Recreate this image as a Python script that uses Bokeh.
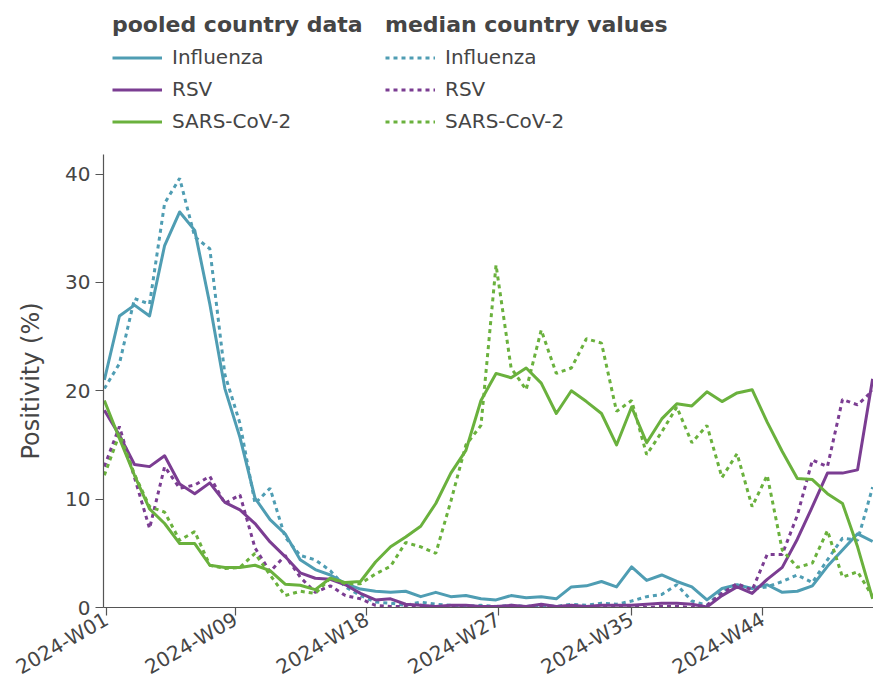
import math
from datetime import date, timedelta

from bokeh.plotting import figure
from bokeh.layouts import column
from bokeh.models import Legend, LegendItem, FixedTicker, Range1d
from bokeh.embed import file_html
from bokeh.resources import INLINE

# ISO weeks of 2024
weeks = list(range(1, 53))

# Positivity (%) – pooled country data
influenza_pooled = [21.0, 26.9, 27.9, 26.9, 33.4, 36.5, 34.8, 28.0, 20.2, 15.7,
                    10.1, 8.1, 6.8, 4.4, 3.5, 3.0, 2.2, 1.7, 1.5, 1.4,
                    1.5, 1.0, 1.4, 1.0, 1.1, 0.8, 0.7, 1.1, 0.9, 1.0,
                    0.8, 1.9, 2.0, 2.4, 1.9, 3.75, 2.5, 3.0, 2.4, 1.9,
                    0.7, 1.75, 2.1, 1.75, 2.1, 1.4, 1.5, 2.0, 3.8, 5.3,
                    6.8, 6.1]
rsv_pooled = [18.2, 15.9, 13.2, 13.0, 14.0, 11.4, 10.5, 11.5, 9.7, 9.0,
              7.75, 6.05, 4.7, 3.2, 2.7, 2.6, 2.1, 1.3, 0.7, 0.8,
              0.3, 0.2, 0.1, 0.2, 0.2, 0.1, 0.1, 0.2, 0.1, 0.3,
              0.1, 0.2, 0.1, 0.2, 0.2, 0.2, 0.3, 0.4, 0.4, 0.3,
              0.05, 1.1, 1.9, 1.3, 2.6, 3.7, 6.3, 9.3, 12.4, 12.4,
              12.7, 21.1]
sars_pooled = [19.1, 15.6, 12.2, 9.1, 7.75, 5.9, 5.9, 3.9, 3.7, 3.7,
               3.9, 3.4, 2.15, 2.05, 1.65, 2.7, 2.3, 2.4, 4.2, 5.6,
               6.5, 7.5, 9.6, 12.4, 14.5, 19.1, 21.6, 21.2, 22.1, 20.7,
               17.9, 20.0, 19.0, 17.9, 15.0, 18.5, 15.2, 17.4, 18.8, 18.6,
               19.9, 19.0, 19.8, 20.1, 17.1, 14.4, 11.9, 11.8, 10.5, 9.6,
               5.6, 0.8]

# Positivity (%) – median country values
influenza_median = [20.2, 22.5, 28.5, 28.0, 37.3, 39.6, 34.2, 33.1, 21.5, 17.0,
                    9.6, 11.0, 6.5, 4.8, 4.4, 3.4, 1.9, 1.1, 0.5, 0.4,
                    0.2, 0.5, 0.3, 0.2, 0.1, 0.2, 0.1, 0.2, 0.1, 0.2,
                    0.1, 0.3, 0.2, 0.4, 0.3, 0.6, 1.0, 1.2, 2.1, 0.6,
                    0.2, 1.5, 2.1, 1.7, 1.9, 2.4, 3.0, 2.3, 4.4, 6.4,
                    6.2, 11.1]
rsv_median = [13.0, 16.7, 12.0, 7.3, 13.0, 11.0, 11.3, 12.1, 9.6, 10.4,
              5.5, 3.3, 4.8, 2.8, 1.4, 2.0, 1.1, 0.8, 0.2, 0.1,
              0.1, 0.2, 0.0, 0.1, 0.0, 0.1, 0.0, 0.1, 0.0, 0.1,
              0.0, 0.1, 0.0, 0.1, 0.0, 0.1, 0.0, 0.1, 0.1, 0.0,
              0.2, 1.3, 2.2, 1.6, 4.9, 4.9, 8.5, 13.6, 13.0, 19.2,
              18.7, 20.0]
sars_median = [12.2, 16.0, 12.3, 9.3, 8.8, 6.2, 7.0, 3.9, 3.6, 3.7,
               5.0, 3.0, 1.1, 1.5, 1.3, 2.7, 2.2, 2.2, 3.1, 3.8,
               6.0, 5.6, 5.0, 9.8, 15.0, 16.8, 31.6, 22.1, 20.1, 25.6,
               21.6, 22.1, 24.8, 24.4, 18.1, 19.1, 14.1, 16.2, 18.5, 15.2,
               16.8, 12.0, 14.2, 9.3, 12.2, 5.3, 3.7, 4.1, 7.1, 2.8,
               3.3, 1.0]

tick_labels = ["2024-W01", "2024-W09", "2024-W18", "2024-W27", "2024-W35", "2024-W44"]
tick_dates = [date(2024, 1, 1), date(2024, 3, 1), date(2024, 5, 1),
              date(2024, 7, 1), date(2024, 9, 1), date(2024, 11, 1)]
y_ticks = [0, 10, 20, 30, 40]

# x is measured in days from 1 January 2024; each weekly value is drawn
# on the Sunday before its ISO week begins
origin = date(2024, 1, 1)
x = [(date.fromisocalendar(2024, w, 1) - timedelta(days=1) - origin).days for w in weeks]
tick_pos = [(d - origin).days for d in tick_dates]

COL_FLU = "#4f9db3"
COL_RSV = "#7b3d92"
COL_SARS = "#6ab13d"
TEXT = "#454545"
FONT = "DejaVu Sans"
DOT = "4 4"
LEG_H = 150

series = [
    ("Influenza", influenza_pooled, influenza_median, COL_FLU),
    ("RSV", rsv_pooled, rsv_median, COL_RSV),
    ("SARS-CoV-2", sars_pooled, sars_median, COL_SARS),
]

x_range = Range1d(-1.4, 356.4)
y_range = Range1d(0, 41.8)

# ---- main chart -------------------------------------------------------
p = figure(width=873, height=692 - LEG_H, output_backend="svg", toolbar_location=None,
           x_range=x_range, y_range=y_range,
           min_border_left=103, min_border_right=0,
           min_border_top=4, min_border_bottom=85)
p.xgrid.visible = False
p.ygrid.visible = False
p.outline_line_color = None
p.background_fill_color = "white"
p.border_fill_color = "white"

for name, pooled, median, col in series:
    p.line(x, median, line_color=col, line_width=3, line_dash=DOT)
    p.line(x, pooled, line_color=col, line_width=3, line_join="round")

for ax in (p.xaxis[0], p.yaxis[0]):
    ax.axis_line_color = "#555555"
    ax.axis_line_width = 1.2
    ax.major_tick_line_color = "#555555"
    ax.major_tick_line_width = 1.2
    ax.major_tick_in = 0
    ax.major_tick_out = 8
    ax.minor_tick_line_color = None
    ax.major_label_text_font = FONT
    ax.major_label_text_font_size = "20px"
    ax.major_label_text_color = TEXT

p.xaxis.ticker = FixedTicker(ticks=tick_pos)
p.xaxis.major_label_overrides = {t: lab for t, lab in zip(tick_pos, tick_labels)}
p.xaxis.major_label_orientation = math.pi / 6
p.xaxis.major_label_standoff = 2

p.yaxis.ticker = FixedTicker(ticks=y_ticks)
p.yaxis.major_label_standoff = 5
p.yaxis.axis_label = "Positivity (%)"
p.yaxis.axis_label_text_font = FONT
p.yaxis.axis_label_text_font_style = "normal"
p.yaxis.axis_label_text_font_size = "24px"
p.yaxis.axis_label_text_color = TEXT
p.yaxis.axis_label_standoff = 17

# ---- legend strip above the chart ------------------------------------
# The legend needs renderers in its own plot: the same series are added
# here as hidden lines so that the legend samples carry their styles.
leg = figure(width=873, height=LEG_H, output_backend="svg", toolbar_location=None,
             x_axis_location=None, y_axis_location=None,
             x_range=x_range, y_range=y_range, min_border=0)
leg.xgrid.visible = False
leg.ygrid.visible = False
leg.outline_line_color = None
leg.background_fill_color = "white"
leg.border_fill_color = "white"

pooled_items, median_items = [], []
for name, pooled, median, col in series:
    r_pool = leg.line(x, pooled, line_color=col, line_width=3, visible=False)
    r_med = leg.line(x, median, line_color=col, line_width=3, line_dash=DOT, visible=False)
    pooled_items.append(LegendItem(label=name, renderers=[r_pool]))
    median_items.append(LegendItem(label=name, renderers=[r_med]))


def make_legend(title, items, loc):
    lg = Legend(items=items, title=title, location=loc, orientation="vertical")
    lg.title_text_font = FONT
    lg.title_text_font_style = "bold"
    lg.title_text_font_size = "22px"
    lg.title_text_color = TEXT
    lg.title_standoff = 8
    lg.label_text_font = FONT
    lg.label_text_font_size = "20px"
    lg.label_text_color = TEXT
    lg.glyph_width = 50
    lg.glyph_height = 21
    lg.label_height = 21
    lg.label_standoff = 10
    lg.spacing = 8
    lg.padding = 0
    lg.margin = 0
    lg.border_line_alpha = 0
    lg.background_fill_alpha = 0
    lg.click_policy = "none"
    return lg


# legend offsets are measured from the strip's frame, which lines up with the chart frame
leg.add_layout(make_legend("pooled country data", pooled_items, (9, 17)), "center")
leg.add_layout(make_legend("median country values", median_items, (282, 17)), "center")

layout = column(leg, p, spacing=0)
open("out.html", "w").write(file_html(layout, INLINE))
